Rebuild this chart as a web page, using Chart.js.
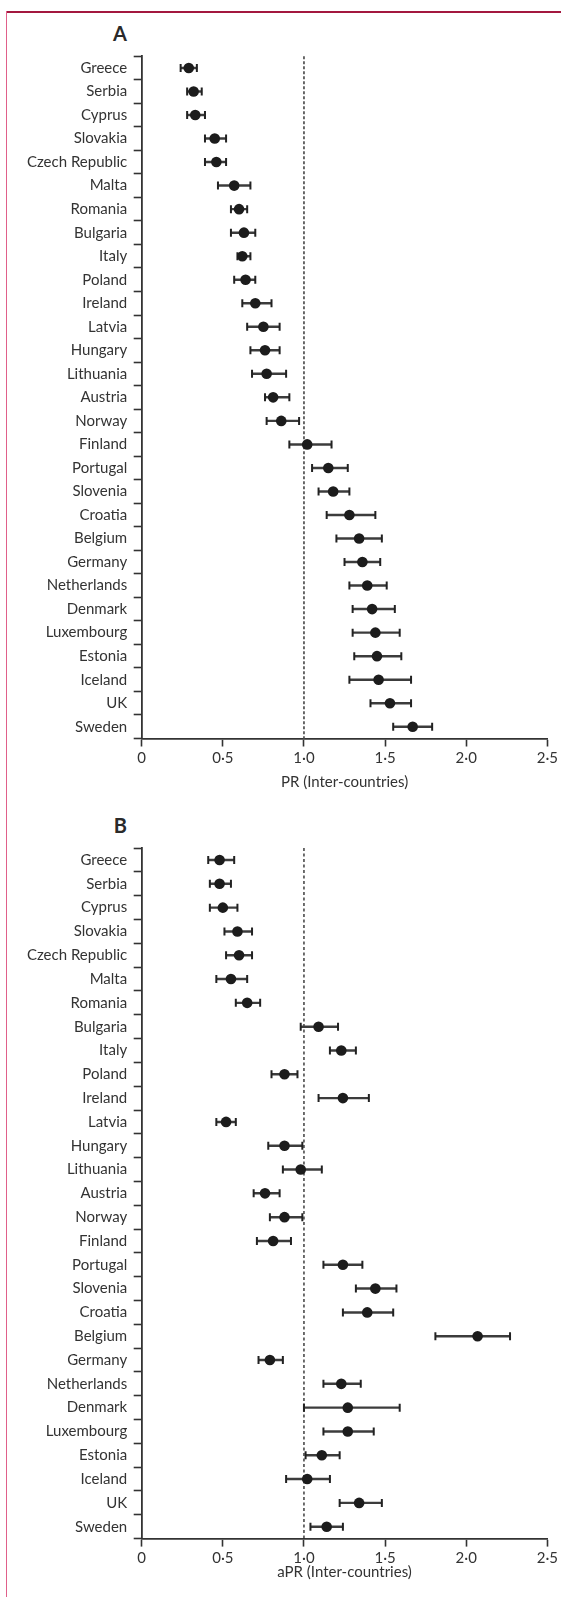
<!DOCTYPE html>
<html>
<head>
<meta charset="utf-8">
<script src="https://cdn.jsdelivr.net/npm/chart.js@4.4.1/dist/chart.umd.min.js"></script>
<style>
  body { margin: 0; background: #fff; }
  #page { position: relative; width: 561px; height: 1597px; overflow: hidden; }
  .frameTop { position: absolute; left: 6px; top: 11px; right: 0; height: 1.5px; background: #a3183f; }
  .frameLeft { position: absolute; left: 5.5px; top: 11px; bottom: 0; width: 1.5px; background: #e0608a; }
  .panel { position: absolute; left: 0; }
  .letter { position: absolute; width: 127px; text-align: right; font: bold 20px Lato, sans-serif; color: #2a2a2a; }
</style>
</head>
<body>
<div id="page">
  <div class="frameTop"></div>
  <div class="frameLeft"></div>
  <div class="letter" style="top:21px">A</div>
  <div class="letter" style="top:813px">B</div>
  <canvas id="chartA" class="panel" style="top:0" width="561" height="800"></canvas>
  <canvas id="chartB" class="panel" style="top:800px" width="561" height="797"></canvas>
</div>
<script>
// countries, top to bottom
var countries = ["Greece", "Serbia", "Cyprus", "Slovakia", "Czech Republic", "Malta", "Romania",
  "Bulgaria", "Italy", "Poland", "Ireland", "Latvia", "Hungary", "Lithuania", "Austria", "Norway",
  "Finland", "Portugal", "Slovenia", "Croatia", "Belgium", "Germany", "Netherlands", "Denmark",
  "Luxembourg", "Estonia", "Iceland", "UK", "Sweden"];

// A: PR (inter-countries) with 95% CI
var prA   = [0.29, 0.32, 0.33, 0.45, 0.46, 0.57, 0.60, 0.63, 0.62, 0.64, 0.70, 0.75, 0.76, 0.77, 0.81,
  0.86, 1.02, 1.15, 1.18, 1.28, 1.34, 1.36, 1.39, 1.42, 1.44, 1.45, 1.46, 1.53, 1.67];
var prAlo = [0.24, 0.28, 0.28, 0.39, 0.39, 0.47, 0.55, 0.55, 0.59, 0.57, 0.62, 0.65, 0.67, 0.68, 0.76,
  0.77, 0.91, 1.05, 1.09, 1.14, 1.20, 1.25, 1.28, 1.30, 1.30, 1.31, 1.28, 1.41, 1.55];
var prAhi = [0.34, 0.37, 0.39, 0.52, 0.52, 0.67, 0.65, 0.70, 0.67, 0.70, 0.80, 0.85, 0.85, 0.89, 0.91,
  0.97, 1.17, 1.27, 1.28, 1.44, 1.48, 1.47, 1.51, 1.56, 1.59, 1.60, 1.66, 1.66, 1.79];

// B: aPR (inter-countries) with 95% CI
var aprB   = [0.48, 0.48, 0.50, 0.59, 0.60, 0.55, 0.65, 1.09, 1.23, 0.88, 1.24, 0.52, 0.88, 0.98, 0.76,
  0.88, 0.81, 1.24, 1.44, 1.39, 2.07, 0.79, 1.23, 1.27, 1.27, 1.11, 1.02, 1.34, 1.14];
var aprBlo = [0.41, 0.42, 0.42, 0.51, 0.52, 0.46, 0.58, 0.98, 1.16, 0.80, 1.09, 0.46, 0.78, 0.87, 0.69,
  0.79, 0.71, 1.12, 1.32, 1.24, 1.81, 0.72, 1.12, 1.00, 1.12, 1.01, 0.89, 1.22, 1.04];
var aprBhi = [0.57, 0.55, 0.59, 0.68, 0.68, 0.65, 0.73, 1.21, 1.32, 0.96, 1.40, 0.58, 0.99, 1.11, 0.85,
  0.99, 0.92, 1.36, 1.57, 1.55, 2.27, 0.87, 1.35, 1.59, 1.43, 1.22, 1.16, 1.48, 1.24];

var xTicks = [0, 0.5, 1, 1.5, 2, 2.5];

Chart.defaults.font.family = "Lato, sans-serif";

// dashed line at PR = 1
var refLine = {
  id: 'refLine',
  beforeDatasetsDraw: function(chart, args, opts) {
    var ctx = chart.ctx;
    var x = chart.scales.x.getPixelForValue(opts.value);
    ctx.save();
    ctx.strokeStyle = opts.color;
    ctx.lineWidth = opts.width;
    ctx.setLineDash(opts.dash);
    ctx.beginPath();
    ctx.moveTo(x, chart.chartArea.top);
    ctx.lineTo(x, chart.chartArea.bottom);
    ctx.stroke();
    ctx.restore();
  }
};

function makeChart(id, est, lo, hi, axisTitle, lay) {
  return new Chart(document.getElementById(id), {
    type: 'bar',
    data: {
      labels: countries,
      datasets: [{
        type: 'line', indexAxis: 'y', data: est, showLine: false,
        pointRadius: 5.3, pointBackgroundColor: '#1c1c1c', pointBorderWidth: 0, order: 0
      }, {
        type: 'line', indexAxis: 'y', data: lo, showLine: false,
        pointStyle: 'line', pointRotation: 90, pointRadius: 4,
        pointBorderWidth: 2, pointBorderColor: '#222', order: 1
      }, {
        type: 'line', indexAxis: 'y', data: hi, showLine: false,
        pointStyle: 'line', pointRotation: 90, pointRadius: 4,
        pointBorderWidth: 2, pointBorderColor: '#222', order: 1
      }, {
        type: 'bar', indexAxis: 'y', data: lo.map(function(v, i) { return [v, hi[i]]; }),
        backgroundColor: '#3c3c3c', barThickness: 1.8, borderWidth: 0, order: 2
      }]
    },
    options: {
      indexAxis: 'y',
      responsive: false,
      animation: false,
      events: [],
      layout: { padding: { top: lay.top, right: 13.3, left: 0, bottom: 0 } },
      plugins: {
        legend: { display: false },
        tooltip: { enabled: false },
        refLine: lay.ref
      },
      scales: {
        x: {
          type: 'linear', min: 0, max: 2.5,
          afterBuildTicks: function(s) { s.ticks = xTicks.map(function(v) { return { value: v }; }); },
          afterFit: function(s) { s.height = lay.xh; },
          ticks: {
            color: '#333', font: { size: 15 }, padding: 3,
            callback: function(v) { return v === 0 ? '0' : v.toFixed(1).replace('.', '\u00b7'); }
          },
          grid: { drawOnChartArea: false, tickLength: 8, tickColor: '#333', tickWidth: 1.6 },
          border: { color: '#333', width: 1.8 },
          title: { display: true, text: axisTitle, color: '#333', font: { size: 15 },
                   padding: { top: 0, bottom: lay.titlePad } }
        },
        y: {
          type: 'category', offset: true,
          afterFit: function(s) { s.width = 141.7; },
          ticks: { color: '#333', font: { size: 15 }, padding: 6.5, autoSkip: false },
          grid: { offset: true, drawOnChartArea: false, tickLength: 8, tickColor: '#333', tickWidth: 1.6 },
          border: { color: '#333', width: 1.8 }
        }
      }
    },
    plugins: [refLine]
  });
}

makeChart('chartA', prA, prAlo, prAhi, 'PR (Inter-countries)',
  { top: 56.2, xh: 61.5, titlePad: 9, ref: { value: 1, color: '#5a5a5a', width: 1.8, dash: [3, 2] } });
makeChart('chartB', aprB, aprBlo, aprBhi, 'aPR (Inter-countries)',
  { top: 48.1, xh: 58.4, titlePad: 16, ref: { value: 1, color: '#222', width: 1.3, dash: [3, 2.5] } });
</script>
</body>
</html>
